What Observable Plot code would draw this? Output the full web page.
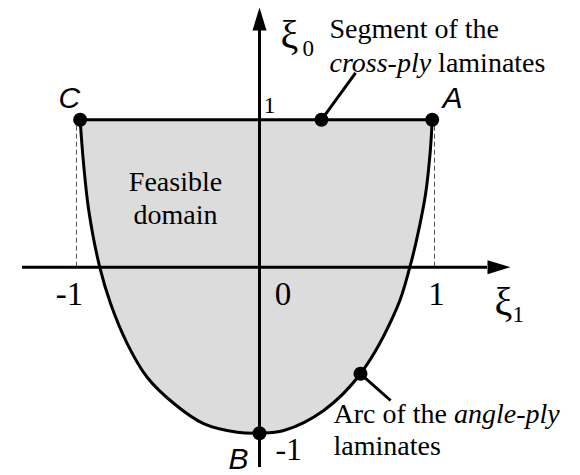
<!DOCTYPE html>
<html>
<head>
<meta charset="utf-8">
<script src="https://cdn.jsdelivr.net/npm/d3@7"></script>
<script src="https://cdn.jsdelivr.net/npm/@observablehq/plot@0.6"></script>
<style>
  html, body { margin: 0; padding: 0; background: #ffffff; }
  #chart { width: 580px; height: 475px; }
</style>
</head>
<body>
<div id="chart"></div>
<script>
// Boundary of the feasible domain, left to right
const boundaryXi1 = [-0.98, -0.963, -0.933, -0.873, -0.814, -0.723, -0.614, -0.468, -0.306, -0.122, 0, 0.139, 0.367, 0.577, 0.787, 0.859, 0.901, 0.949, 0.976, 0.987];
const boundaryXi0 = [1, 0.724, 0.385, 0, -0.219, -0.46, -0.663, -0.821, -0.942, -0.994, -1, -0.984, -0.863, -0.642, -0.241, 0, 0.204, 0.497, 0.79, 1];

// Corner points C, A, B
const cornerNames = ["C", "A", "B"];
const cornerXi1 = [-0.98, 0.987, 0];
const cornerXi0 = [1, 1, -1];
const cornerLabelXi1 = [-1.098, 1.046, -0.169];
const cornerLabelXi0 = [1.083, 1.083, -1.213];

// Annotated points on the segment and on the arc, with leader line ends
const markerXi1 = [0.354, 0.577];
const markerXi0 = [1, -0.642];
const leaderEndXi1 = [0.549, 0.749];
const leaderEndXi0 = [1.318, -0.803];

// Axis extents
const xAxisFrom = -1.295, xAxisTo = 1.303;
const yAxisFrom = -1.207, yAxisTo = 1.606;

// Tick labels
const xTickLabels = ["-1", "0", "1"];
const xTickLabelXi1 = [-1.038, 0.134, 1.011];
const xTickLabelXi0 = [-0.225, -0.225, -0.225];
const yTickLabels = ["1", "-1"];
const yTickLabelXi1 = [0.023, 0.091];
const yTickLabelXi0 = [1.043, -1.164];
const yTickSizes = [24, 32];

// Dashed guides at ξ1 = ±1
const guideXi1 = [-1, 1];

// Annotation texts
const annotationTexts = ["Segment of the", "cross-ply laminates", "Arc of the angle-ply", "laminates"];
const annotationXi1 = [0.4, 0.4, 0.423, 0.423];
const annotationXi0 = [1.558, 1.321, -0.941, -1.134];
const domainText = ["Feasible", "domain"];
const domainXi1 = [-0.459, -0.459];
const domainXi0 = [0.52, 0.296];

// Axis titles
const axisSymbols = ["ξ", "ξ"];
const axisSymbolXi1 = [0.12, 1.343];
const axisSymbolXi0 = [1.49, -0.29];
const axisSubs = ["0", "1"];
const axisSubXi1 = [0.246, 1.446];
const axisSubXi0 = [1.436, -0.333];

const boundary = boundaryXi1.map((x, i) => ({x, y: boundaryXi0[i]}));
const corners = cornerNames.map((n, i) => ({n, x: cornerXi1[i], y: cornerXi0[i], lx: cornerLabelXi1[i], ly: cornerLabelXi0[i]}));
const markers = markerXi1.map((x, i) => ({x, y: markerXi0[i], x2: leaderEndXi1[i], y2: leaderEndXi0[i]}));
const xTicks = xTickLabels.map((t, i) => ({t, x: xTickLabelXi1[i], y: xTickLabelXi0[i]}));
const yTicks = yTickLabels.map((t, i) => ({t, x: yTickLabelXi1[i], y: yTickLabelXi0[i], s: yTickSizes[i]}));
const annotations = annotationTexts.map((t, i) => ({t, x: annotationXi1[i], y: annotationXi0[i]}));
const domainLabels = domainText.map((t, i) => ({t, x: domainXi1[i], y: domainXi0[i]}));
const symbols = axisSymbols.map((t, i) => ({t, x: axisSymbolXi1[i], y: axisSymbolXi0[i]}));
const subs = axisSubs.map((t, i) => ({t, x: axisSubXi1[i], y: axisSubXi0[i]}));

const arrowUp = {draw(ctx) { ctx.moveTo(0, -23); ctx.lineTo(7, 0); ctx.lineTo(-7, 0); ctx.closePath(); }};
const arrowRight = {draw(ctx) { ctx.moveTo(23, 0); ctx.lineTo(0, 7); ctx.lineTo(0, -7); ctx.closePath(); }};

const serif = "Liberation Serif";
const sans = "Liberation Sans";
const txt = {textAnchor: "start", lineAnchor: "bottom", fontFamily: serif, fill: "#000000"};

const plot = Plot.plot({
  width: 580,
  height: 475,
  margin: 0,
  style: {background: "#ffffff", overflow: "visible"},
  x: {type: "linear", domain: [-1, 0, 1], range: [76, 259, 434], axis: null},
  y: {type: "linear", domain: [-1, 0, 1], range: [432.7, 266.7, 119.3], axis: null},
  marks: [
    Plot.areaY(boundary, {x: "x", y1: "y", y2: 1, curve: "catmull-rom", fill: "#dcdcdc"}),
    Plot.ruleX(guideXi1, {y1: 0, y2: 1, stroke: "#555555", strokeWidth: 1, strokeDasharray: "5,3"}),
    Plot.ruleY([0], {x1: xAxisFrom, x2: xAxisTo, stroke: "#000000", strokeWidth: 3}),
    Plot.ruleX([0], {y1: yAxisFrom, y2: yAxisTo, stroke: "#000000", strokeWidth: 3}),
    Plot.dot([{x: xAxisTo, y: 0}], {x: "x", y: "y", symbol: arrowRight, fill: "#000000", stroke: "none"}),
    Plot.dot([{x: 0, y: yAxisTo}], {x: "x", y: "y", symbol: arrowUp, fill: "#000000", stroke: "none"}),
    Plot.line(boundary, {x: "x", y: "y", curve: "catmull-rom", stroke: "#000000", strokeWidth: 3}),
    Plot.ruleY([1], {x1: cornerXi1[0], x2: cornerXi1[1], stroke: "#000000", strokeWidth: 3}),
    Plot.link(markers, {x1: "x", y1: "y", x2: "x2", y2: "y2", stroke: "#000000", strokeWidth: 3}),
    Plot.dot(corners, {x: "x", y: "y", r: 7, fill: "#000000", stroke: "none"}),
    Plot.dot(markers, {x: "x", y: "y", r: 7, fill: "#000000", stroke: "none"}),
    Plot.text(corners, {...txt, x: "lx", y: "ly", text: "n", fontFamily: sans, fontStyle: "italic", fontSize: 30}),
    Plot.text(xTicks, {...txt, x: "x", y: "y", text: "t", textAnchor: "middle", fontSize: 33}),
    Plot.text(yTicks, {...txt, x: "x", y: "y", text: "t", fontSize: "s"}),
    Plot.text(annotations, {...txt, x: "x", y: "y", text: "t", fontSize: 28}),
    Plot.text(domainLabels, {...txt, x: "x", y: "y", text: "t", textAnchor: "middle", fontSize: 28}),
    Plot.text(symbols, {...txt, x: "x", y: "y", text: "t", fontSize: 40}),
    Plot.text(subs, {...txt, x: "x", y: "y", text: "t", fontSize: 23})
  ]
});

// Set italic parts inside mixed-style annotation lines
function italicize(svg, full, part) {
  d3.select(svg).selectAll("text").filter(function() { return this.textContent === full; }).each(function() {
    const t = d3.select(this);
    const i = full.indexOf(part);
    const before = full.slice(0, i), after = full.slice(i + part.length);
    t.text(null);
    if (before) t.append("tspan").text(before);
    t.append("tspan").attr("font-style", "italic").text(part);
    if (after) t.append("tspan").text(after);
  });
}
italicize(plot, "cross-ply laminates", "cross-ply");
italicize(plot, "Arc of the angle-ply", "angle-ply");

document.getElementById("chart").append(plot);
</script>
</body>
</html>
